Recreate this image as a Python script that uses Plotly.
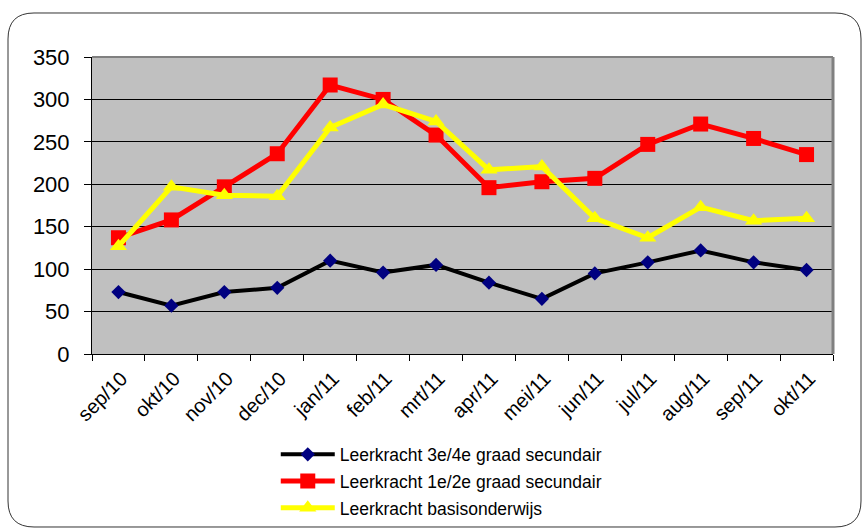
"""Leerkracht line chart, sep/10 - okt/11."""
import plotly.graph_objects as go

W, H = 862, 529
M_L, M_R, M_T, M_B = 92, 29, 57, 175

months = ["sep/10", "okt/10", "nov/10", "dec/10", "jan/11", "feb/11", "mrt/11",
          "apr/11", "mei/11", "jun/11", "jul/11", "aug/11", "sep/11", "okt/11"]
sec_34 = [73, 57, 73, 78, 110, 96, 105, 84, 65, 95, 108, 122, 108, 99]
sec_12 = [137, 158, 197, 236, 317, 300, 258, 196, 203, 207, 247, 271, 254, 235]
basis = [127, 197, 187, 186, 267, 294, 274, 217, 221, 160, 137, 173, 157, 160]

FONT = "Liberation Sans, Arial, sans-serif"


def to_paper(px, py):
    pw, ph = W - M_L - M_R, H - M_T - M_B
    return (px - M_L) / pw, (H - M_B - py) / ph


def rounded_rect(x0, y0, x1, y1, r):
    pts = [("M", x0 + r, y0), ("L", x1 - r, y0), ("Q", x1, y0, x1, y0 + r),
           ("L", x1, y1 - r), ("Q", x1, y1, x1 - r, y1), ("L", x0 + r, y1),
           ("Q", x0, y1, x0, y1 - r), ("L", x0, y0 + r), ("Q", x0, y0, x0 + r, y0)]
    out = []
    for p in pts:
        cmd, vals = p[0], p[1:]
        coords = []
        for i in range(0, len(vals), 2):
            a, b = to_paper(vals[i], vals[i + 1])
            coords.append(f"{a:.5f},{b:.5f}")
        out.append(cmd + " ".join(coords))
    return " ".join(out) + " Z"


fig = go.Figure()
fig.add_trace(go.Scatter(
    x=months, y=sec_34, name="Leerkracht 3e/4e graad secundair",
    legendgroup="a", mode="lines+markers", line=dict(color="#000000", width=4),
    marker=dict(symbol="diamond", size=11, color="#000080"),
))
fig.add_trace(go.Scatter(
    x=months, y=sec_12, name="Leerkracht 1e/2e graad secundair",
    legendgroup="b", mode="lines+markers", line=dict(color="#FF0000", width=5),
    marker=dict(symbol="square", size=15, color="#FF0000"),
))
fig.add_trace(go.Scatter(
    x=months, y=basis, name="Leerkracht basisonderwijs",
    legendgroup="c", mode="lines+markers", line=dict(color="#FFFF00", width=5),
    marker=dict(symbol="triangle-up", size=15, color="#FFFF00"),
))

fig.update_layout(
    width=W, height=H,
    margin=dict(l=M_L, r=M_R, t=M_T, b=M_B),
    paper_bgcolor="white", plot_bgcolor="#C0C0C0",
    font=dict(family=FONT, color="black", size=18),
    showlegend=True,
    legend=dict(x=0.248, y=0.175, xanchor="left", yanchor="top", yref="container",
                bgcolor="rgba(0,0,0,0)", font=dict(size=17.5),
                itemwidth=54, tracegroupgap=1),
    shapes=[
        dict(type="path", xref="paper", yref="paper", layer="below",
             path=rounded_rect(8, 13, 861, 527, 26),
             line=dict(color="#333333", width=1)),
        dict(type="line", xref="paper", yref="paper", layer="above",
             x0=0, x1=1, y0=1, y1=1, line=dict(color="#808080", width=2)),
        dict(type="line", xref="paper", yref="paper", layer="above",
             x0=1, x1=1, y0=0, y1=1, line=dict(color="#808080", width=3)),
    ],
)
fig.update_xaxes(
    type="category", range=[-0.5, len(months) - 0.5],
    tickangle=-45, tickson="boundaries",
    ticks="outside", ticklen=6, tickcolor="black",
    ticklabelstandoff=4, ticklabelshift=3,
    showline=True, linecolor="black", linewidth=1,
    showgrid=False, tickfont=dict(size=20),
)
fig.update_yaxes(
    range=[0, 350], dtick=50, ticks="outside", ticklen=7, tickcolor="black",
    ticklabelstandoff=10,
    showline=True, linecolor="black", linewidth=1,
    showgrid=True, gridcolor="#000000", gridwidth=1, zeroline=False,
    tickfont=dict(size=22),
)

# drop the default body margin so the figure fills the window exactly
fig.write_html("out.html", config={"displayModeBar": False},
               post_script="document.body.style.margin = '0';")
